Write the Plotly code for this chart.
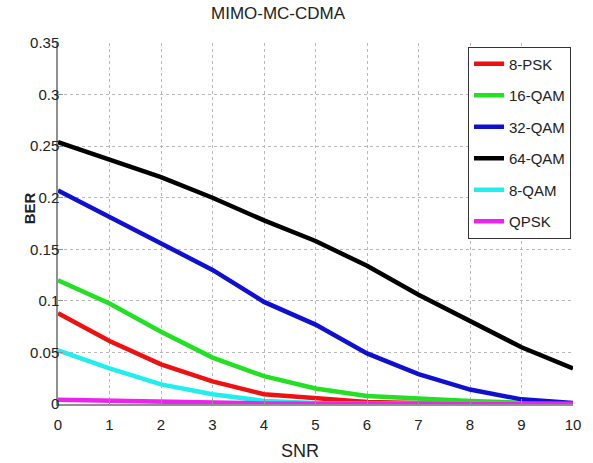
import plotly.graph_objects as go

snr = [0, 1, 2, 3, 4, 5, 6, 7, 8, 9, 10]
names = ["8-PSK", "16-QAM", "32-QAM", "64-QAM", "8-QAM", "QPSK"]
ber_8psk = [0.088, 0.061, 0.0385, 0.022, 0.0094, 0.0055, 0.002, 0.001, 0.0005, 0.0002, 0.0001]
ber_16qam = [0.120, 0.0975, 0.070, 0.045, 0.027, 0.015, 0.0078, 0.005, 0.003, 0.0012, 0.0003]
ber_32qam = [0.207, 0.1815, 0.155, 0.130, 0.099, 0.077, 0.049, 0.029, 0.014, 0.0045, 0.001]
ber_64qam = [0.254, 0.237, 0.220, 0.200, 0.178, 0.158, 0.134, 0.106, 0.081, 0.055, 0.0345]
ber_8qam = [0.052, 0.0345, 0.019, 0.0094, 0.003, 0.001, 0.0005, 0.0002, 0.0001, 0.0, 0.0]
ber_qpsk = [0.004, 0.003, 0.0015, 0.001, 0.0005, 0.0003, 0.0002, 0.0001, 0.0, 0.0, 0.0]
series = [ber_8psk, ber_16qam, ber_32qam, ber_64qam, ber_8qam, ber_qpsk]
colors = ["#ee1111", "#22e022", "#1010d0", "#000000", "#22eeee", "#ee22ee"]
yticks = [0, 0.05, 0.1, 0.15, 0.2, 0.25, 0.3, 0.35]
yticktext = ["0", "0.05", "0.1", "0.15", "0.2", "0.25", "0.3", "0.35"]

FONT = "Liberation Sans, Arial, sans-serif"

fig = go.Figure()
for n, y, c in zip(names, series, colors):
    fig.add_trace(go.Scatter(x=snr, y=y, mode="lines", name=n, legendgroup=n,
                             line=dict(color=c, width=4.5)))

axis_common = dict(showgrid=True, gridcolor="#b8b8b8", griddash="dot", gridwidth=1,
                   showline=True, linecolor="#909090", linewidth=1.5,
                   ticks="inside", ticklen=5, tickcolor="#909090",
                   tickfont=dict(family=FONT, size=15, color="#222"), zeroline=False)

fig.update_xaxes(range=[0, 10], tickmode="array", tickvals=snr, ticklabelstandoff=6, **axis_common)
fig.update_yaxes(range=[0, 0.35], tickmode="array", tickvals=yticks, ticktext=yticktext,
                 ticklabelstandoff=-6, **axis_common)

fig.update_layout(
    width=593, height=463,
    margin=dict(l=58, r=16, t=43, b=59),
    paper_bgcolor="white", plot_bgcolor="white",
    showlegend=True,
    legend=dict(x=(575 - 58) / 519, y=0.99, xanchor="right", yanchor="top",
                bgcolor="white", bordercolor="#333", borderwidth=1,
                font=dict(family=FONT, size=15, color="#222"),
                tracegroupgap=9, itemwidth=30),
    annotations=[
        dict(text="MIMO-MC-CDMA", xref="paper", yref="paper",
             x=(280 - 58) / 519, y=(404 - 25) / 361, xanchor="center", yanchor="bottom",
             showarrow=False, font=dict(family=FONT, size=17, color="#222")),
        dict(text="<b>BER</b>", xref="paper", yref="paper", textangle=-90,
             x=(29 - 58) / 519, y=0.19 / 0.35, xanchor="center", yanchor="middle",
             showarrow=False, font=dict(family=FONT, size=15, color="#222")),
        dict(text="SNR", xref="paper", yref="paper",
             x=(302 - 58) / 519, y=(404 - 451) / 361, xanchor="center", yanchor="middle",
             showarrow=False, font=dict(family=FONT, size=18, color="#222")),
    ],
)

fig.write_html("out.html")
